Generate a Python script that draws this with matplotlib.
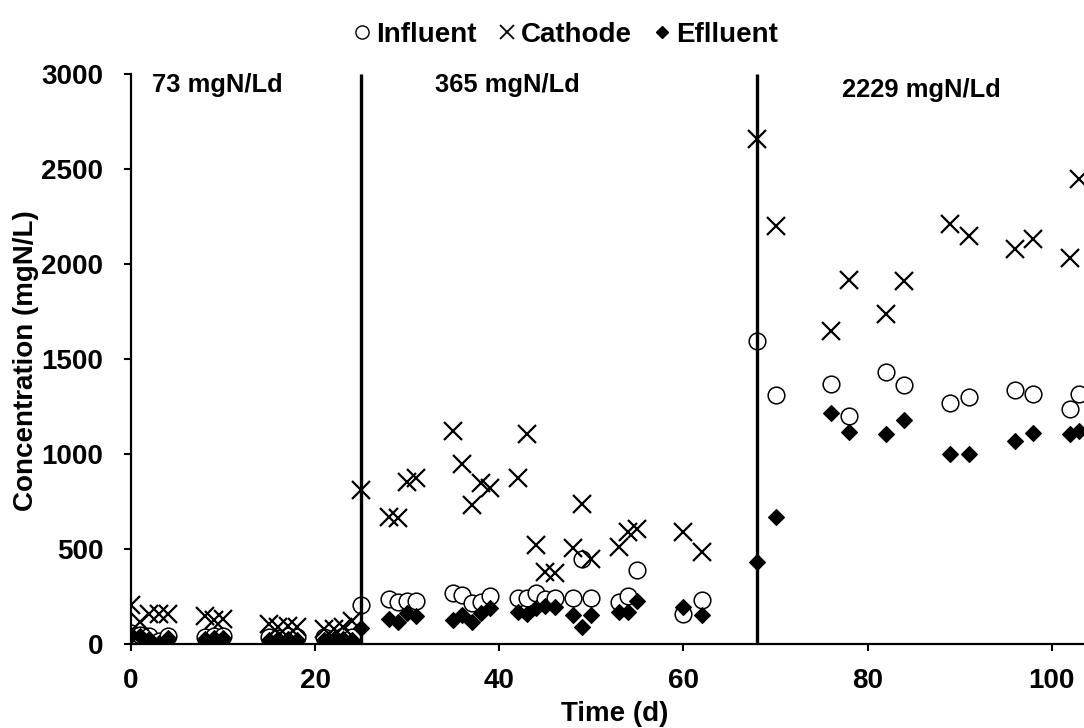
import matplotlib
matplotlib.use("Agg")
import matplotlib.pyplot as plt
from matplotlib.lines import Line2D

plt.rcParams['font.family'] = ['Liberation Sans', 'DejaVu Sans']
plt.rcParams['font.weight'] = 'bold'

days = [0, 1, 2, 3, 4, 8, 9, 10, 15, 16, 17, 18, 21, 22, 23, 24, 25,
        28, 29, 30, 31, 35, 36, 37, 38, 39, 42, 43, 44, 45, 46, 48, 49, 50,
        53, 54, 55, 60, 62, 68, 70, 76, 78, 82, 84, 89, 91, 96, 98, 102, 103]

influent = [60, 50, 40, 15, 40, 35, 40, 40, 35, 30, 40, 35, 35, 30, 40, 35, 205,
            235, 222, 226, 228, 266, 257, 214, 222, 252, 240, 240, 266, 235, 240,
            240, 450, 240, 222, 252, 390, 156, 231, 1594, 1312, 1369, 1198,
            1433, 1362, 1268, 1302, 1335, 1314, 1238, 1314]

cathode_days = [0, 1, 2, 3, 3, 4, 8, 9, 10, 15, 16, 17, 18, 21, 22, 23, 24, 25,
                28, 29, 30, 31, 35, 36, 37, 38, 39, 42, 43, 44, 45, 46, 48, 49, 50,
                53, 54, 55, 60, 62, 68, 70, 76, 78, 82, 84, 89, 91, 96, 98, 102, 103]
cathode = [205, 115, 160, 160, 5, 160, 145, 125, 130, 105, 90, 95, 90, 80, 80, 90, 120, 810,
           670, 665, 855, 875, 1120, 950, 730, 850, 820, 875, 1105, 520, 380, 375,
           505, 735, 450, 510, 590, 605, 590, 485, 2657, 2198, 1645, 1915,
           1737, 1912, 2210, 2150, 2079, 2130, 2033, 2446]

effluent = [45, 40, 25, 5, 30, 25, 30, 30, 20, 25, 25, 20, 20, 25, 25, 20, 84,
            130, 117, 161, 149, 126, 152, 117, 161, 188, 170, 156, 188, 200, 196,
            152, 91, 152, 170, 170, 226, 196, 152, 433, 670, 1214, 1116,
            1107, 1181, 1002, 1002, 1067, 1113, 1107, 1123]

phase_starts = [25, 68]
phase_labels = ["73 mgN/Ld", "365 mgN/Ld", "2229 mgN/Ld"]
phase_label_x = [2.3, 33.0, 77.2]
phase_label_y = [2940, 2940, 2915]

W, H = 1084, 728
fig = plt.figure(figsize=(W / 100, H / 100), dpi=100)
ax = fig.add_axes([131 / W, 1 - 644 / H, 1 - 131 / W, (644 - 74) / H])

ax.plot(days, influent, linestyle='none', marker='o', markersize=12,
        markerfacecolor='white', markeredgecolor='black', markeredgewidth=1.1,
        label='Influent')
ax.plot(cathode_days, cathode, linestyle='none', marker='x', markersize=12.5,
        markeredgecolor='black', markeredgewidth=1.6, label='Cathode')
ax.plot(days, effluent, linestyle='none', marker='D', markersize=8.2,
        markerfacecolor='black', markeredgecolor='black', markeredgewidth=0.8,
        label='Eflluent')

for x in phase_starts:
    ax.plot([x, x], [0, 3000], color='black', linewidth=2.4, solid_capstyle='butt')

for lx, ly, txt in zip(phase_label_x, phase_label_y, phase_labels):
    ax.text(lx, ly, txt, fontsize=18.4, fontweight='bold', va='center', ha='left')

ax.set_xlim(0, 103.5)
ax.set_ylim(0, 3000)
ax.set_xticks([0, 20, 40, 60, 80, 100])
ax.set_yticks([0, 500, 1000, 1500, 2000, 2500, 3000])
ax.tick_params(axis='both', direction='out', length=5, width=1.5, labelsize=20)
for lab in ax.get_xticklabels() + ax.get_yticklabels():
    lab.set_fontweight('bold')
ax.tick_params(axis='x', pad=12)
ax.tick_params(axis='y', pad=15)
ax.spines['top'].set_visible(False)
ax.spines['right'].set_visible(False)
ax.spines['left'].set_linewidth(1.6)
ax.spines['bottom'].set_linewidth(1.6)

ax.set_xlabel('Time (d)', fontsize=20, fontweight='bold', va='center')
ax.xaxis.set_label_coords((615 - 131) / (W - 131), (644 - 714) / 570)
ax.set_ylabel('Concentration (mgN/L)', fontsize=20, fontweight='bold', va='center')
ax.yaxis.set_label_coords((26.5 - 131) / (W - 131), (644 - 360.5) / 570)

handles = [
    Line2D([], [], linestyle='none', marker='o', markersize=9.5, markerfacecolor='white',
           markeredgecolor='black', markeredgewidth=1.0),
    Line2D([], [], linestyle='none', marker='x', markersize=9.5, markeredgecolor='black',
           markeredgewidth=1.3),
    Line2D([], [], linestyle='none', marker='D', markersize=6, markerfacecolor='black',
           markeredgecolor='black'),
]
fig.legend(handles, ['Influent', 'Cathode', 'Eflluent'], loc='center',
           bbox_to_anchor=(566 / W, 1 - 35 / H), ncol=3, frameon=False,
           handlelength=0.6, handletextpad=0.2, columnspacing=0.8,
           prop={'weight': 'bold', 'size': 20})

fig.savefig('out.png', dpi=100)
